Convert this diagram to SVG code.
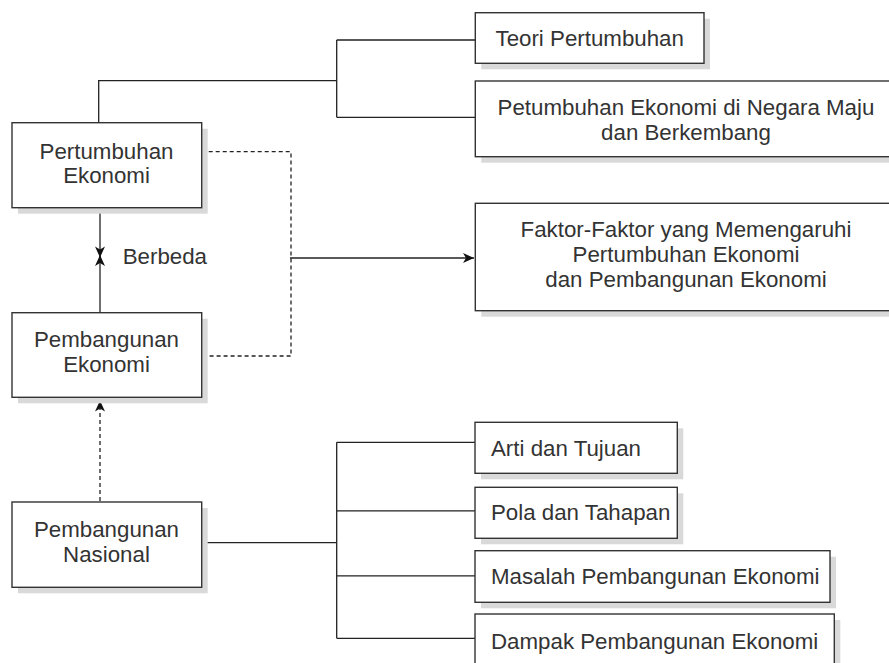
<svg xmlns="http://www.w3.org/2000/svg" width="889" height="663" viewBox="0 0 889 663">
<style>
.shadow{fill:#d9d9d9;stroke:none}
.box{fill:#fff;stroke:#333;stroke-width:1.4}
.t{font-family:"Liberation Sans",Arial,sans-serif;font-size:22.3px;fill:#333}
.c{text-anchor:middle}
.ln{fill:none;stroke:#222;stroke-width:1.3}
.dash{fill:none;stroke:#222;stroke-width:1.3;stroke-dasharray:4 3}
</style>
<defs>
<marker id="arr" markerUnits="userSpaceOnUse" viewBox="-12 -6 13 12" refX="0" refY="0" markerWidth="13" markerHeight="12" orient="auto">
<path d="M0,0 L-11,-5 L-8,0 L-11,5 Z" fill="#111"/>
</marker>
</defs>
<rect width="889" height="663" fill="#fff"/>
<g id="connectors">
<path class="ln" d="M98.7,122.7 V80.7 H336.7 M336.7,40 V117.3 M336.7,40 H475 M336.7,117.3 H475"/>
<path class="dash" d="M201.7,151.7 H291 V356 H201.7"/>
<path class="ln" d="M290,258 H474" marker-end="url(#arr)"/>
<path class="ln" d="M100,207.7 V257.5" marker-end="url(#arr)"/>
<path class="ln" d="M100,312.7 V255" marker-end="url(#arr)"/>
<path class="dash" d="M100,501 V400.5" marker-end="url(#arr)"/>
<path class="ln" d="M200,542.7 H336.7 M336.7,442.3 V638.3 M336.7,442.3 H475 M336.7,510.8 H475 M336.7,575.8 H475 M336.7,638.3 H475"/>
</g>
<text class="t" x="122.7" y="264">Berbeda</text>
<g id="pertumbuhan">
<rect class="shadow" x="18" y="128.7" width="189.7" height="85"/>
<rect class="box" x="12" y="122.7" width="189.7" height="85"/>
<text class="t c" x="106.5" y="159.3">Pertumbuhan</text>
<text class="t c" x="106.5" y="183.3">Ekonomi</text>
</g>
<g id="pembangunan-ekonomi">
<rect class="shadow" x="18" y="318.7" width="189.7" height="84.6"/>
<rect class="box" x="12" y="312.7" width="189.7" height="84.6"/>
<text class="t c" x="106.5" y="346.7">Pembangunan</text>
<text class="t c" x="106.5" y="371.7">Ekonomi</text>
</g>
<g id="pembangunan-nasional">
<rect class="shadow" x="18" y="508" width="189.7" height="85.3"/>
<rect class="box" x="12" y="502" width="189.7" height="85.3"/>
<text class="t c" x="106.5" y="536.7">Pembangunan</text>
<text class="t c" x="106.5" y="561.7">Nasional</text>
</g>
<g id="teori">
<rect class="shadow" x="481.3" y="18.7" width="228.7" height="50.6"/>
<rect class="box" x="475.3" y="12.7" width="228.7" height="50.6"/>
<text class="t" x="495.5" y="46">Teori Pertumbuhan</text>
</g>
<g id="negara">
<rect class="shadow" x="481.3" y="87" width="420" height="75.7"/>
<rect class="box" x="475.3" y="81" width="420" height="75.7"/>
<text class="t c" x="686" y="115">Petumbuhan Ekonomi di Negara Maju</text>
<text class="t c" x="686" y="140">dan Berkembang</text>
</g>
<g id="faktor">
<rect class="shadow" x="481.3" y="209.3" width="420" height="107.4"/>
<rect class="box" x="475.3" y="203.3" width="420" height="107.4"/>
<text class="t c" x="686" y="237.3">Faktor-Faktor yang Memengaruhi</text>
<text class="t c" x="686" y="261.7">Pertumbuhan Ekonomi</text>
<text class="t c" x="686" y="287.3">dan Pembangunan Ekonomi</text>
</g>
<g id="arti">
<rect class="shadow" x="481" y="428.3" width="202.3" height="51"/>
<rect class="box" x="475" y="422.3" width="202.3" height="51"/>
<text class="t" x="491" y="455.7">Arti dan Tujuan</text>
</g>
<g id="pola">
<rect class="shadow" x="481" y="493.3" width="202.3" height="51"/>
<rect class="box" x="475" y="487.3" width="202.3" height="51"/>
<text class="t" x="491" y="520">Pola dan Tahapan</text>
</g>
<g id="masalah">
<rect class="shadow" x="481" y="556.7" width="355" height="51.6"/>
<rect class="box" x="475" y="550.7" width="355" height="51.6"/>
<text class="t" x="491" y="584">Masalah Pembangunan Ekonomi</text>
</g>
<g id="dampak">
<rect class="shadow" x="481" y="620" width="359.3" height="60"/>
<rect class="box" x="475" y="614" width="359.3" height="60"/>
<text class="t" x="491" y="649">Dampak Pembangunan Ekonomi</text>
</g>
</svg>
